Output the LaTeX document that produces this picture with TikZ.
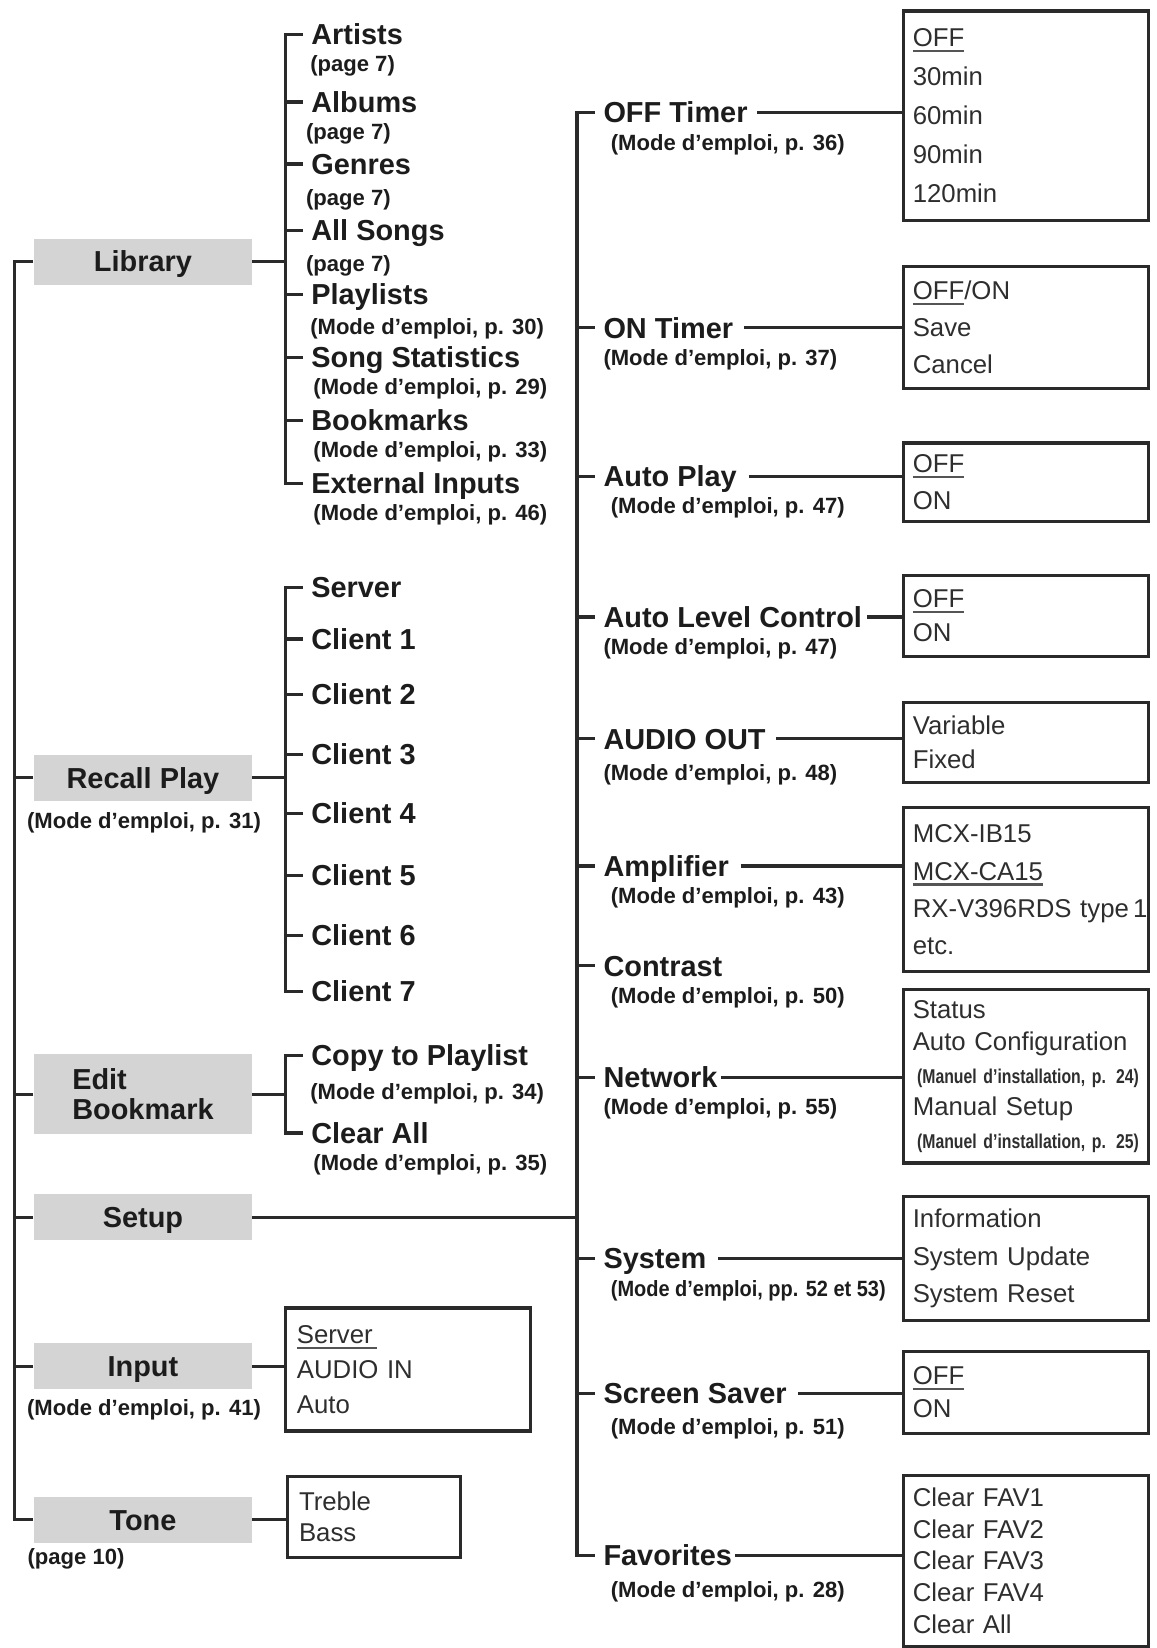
\documentclass[tikz,border=0pt]{standalone}
\usepackage{fontspec}
\setmainfont{Liberation Sans}
\usepackage{graphicx}

\definecolor{linegray}{HTML}{2A2A2A}
\definecolor{boxgray}{HTML}{D4D4D4}
\definecolor{inkblack}{HTML}{1C1C1C}
\definecolor{optgray}{HTML}{2E2E2E}
\definecolor{rulegray}{HTML}{555555}

\newcommand{\titlefont}{\fontsize{27.5}{31}\selectfont\bfseries}
\newcommand{\reffont}{\fontsize{21}{24}\selectfont\bfseries}
\newcommand{\optsize}[1]{\fontsize{24.5}{#1}\selectfont}
\newcommand{\ulopt}[1]{\leavevmode\vtop{\hbox{#1}\kern3pt{\color{rulegray}\hrule height 2pt}}}
\newcommand{\instref}[1]{{\fontsize{19}{20}\selectfont\bfseries\scalebox{0.79}[1]{#1}}}

\begin{document}
\begin{tikzpicture}[x=1pt,y=-1pt,
  conn/.style={draw=linegray, line width=3pt},
  catbox/.style={fill=boxgray, minimum width=208pt, minimum height=44pt, inner sep=0pt, font=\titlefont, text=inkblack},
  onerow/.style={text height=19.5pt, text depth=0pt},
  item/.style={anchor=west, inner sep=0pt, font=\titlefont, text=inkblack, text height=19.5pt, text depth=0pt},
  pageref/.style={anchor=west, inner sep=0pt, font=\reffont, text=inkblack, text height=15pt, text depth=0pt},
  optbox/.style={draw=linegray, line width=3pt, anchor=north west, minimum width=233pt, text width=215pt, inner xsep=9pt, inner ysep=0pt, align=left, font=\optsize{32}, text=optgray}]

\useasboundingbox (0,0) rectangle (1100,1568);

% main menu
\node[catbox, onerow] (library) at (136,249) {Library};
\node[catbox, onerow] (recall) at (136,740) {Recall Play};
\node[pageref, anchor=center] (recall_ref) at (137,781) {(Mode d’emploi, p. 31)};
\node[catbox, minimum height=76pt, align=left, font={\fontsize{27.5}{28}\selectfont\bfseries}] (editbm) at (136,1041) {Edit\\Bookmark};
\node[catbox, onerow] (setup) at (136,1158) {Setup};
\node[catbox, onerow] (input) at (136,1300) {Input};
\node[pageref, anchor=center] (input_ref) at (137,1339) {(Mode d’emploi, p. 41)};
\node[catbox, onerow] (tone) at (136,1446) {Tone};
\node[pageref] (tone_ref) at (26,1481) {(page 10)};

% library
\node[item] (lib_artists) at (296,33) {Artists};
\node[pageref] (lib_artists_ref) at (295,61) {(page 7)};
\node[item] (lib_albums) at (296,97) {Albums};
\node[pageref] (lib_albums_ref) at (291,125) {(page 7)};
\node[item] (lib_genres) at (296,156) {Genres};
\node[pageref] (lib_genres_ref) at (291,188) {(page 7)};
\node[item] (lib_allsongs) at (296,219) {All Songs};
\node[pageref] (lib_allsongs_ref) at (291,251) {(page 7)};
\node[item] (lib_playlists) at (296,280) {Playlists};
\node[pageref] (lib_playlists_ref) at (295,311) {(Mode d’emploi, p. 30)};
\node[item] (lib_songstats) at (296,340) {Song Statistics};
\node[pageref] (lib_songstats_ref) at (298,368) {(Mode d’emploi, p. 29)};
\node[item] (lib_bookmarks) at (296,400) {Bookmarks};
\node[pageref] (lib_bookmarks_ref) at (298,428) {(Mode d’emploi, p. 33)};
\node[item] (lib_extinputs) at (296,460) {External Inputs};
\node[pageref] (lib_extinputs_ref) at (298,488) {(Mode d’emploi, p. 46)};

% recall play
\node[item] (rec_server) at (296,559) {Server};
\node[item] (rec_client1) at (296,608) {Client 1};
\node[item] (rec_client2) at (296,661) {Client 2};
\node[item] (rec_client3) at (296,718) {Client 3};
\node[item] (rec_client4) at (296,774) {Client 4};
\node[item] (rec_client5) at (296,833) {Client 5};
\node[item] (rec_client6) at (296,890) {Client 6};
\node[item] (rec_client7) at (296,943) {Client 7};

% edit bookmark
\node[item] (bm_copy) at (296,1004) {Copy to Playlist};
\node[pageref] (bm_copy_ref) at (295,1039) {(Mode d’emploi, p. 34)};
\node[item] (bm_clear) at (296,1078) {Clear All};
\node[pageref] (bm_clear_ref) at (298,1106) {(Mode d’emploi, p. 35)};

% input and tone
\node[optbox, minimum width=233pt, text width=211pt, inner xsep=11pt, minimum height=117pt, font=\optsize{33}] (b_input) at (270,1243) {\ulopt{Server\,}\\AUDIO IN\\Auto};
\node[optbox, minimum width=165pt, text width=143pt, inner xsep=11pt, minimum height=77pt, font=\optsize{29}] (b_tone) at (272,1403) {Treble\\Bass};

% setup
\node[item] (r_offtimer) at (574,107) {OFF Timer};
\node[pageref] (r_offtimer_ref) at (581,136) {(Mode d’emploi, p. 36)};
\node[item] (r_ontimer) at (574,312) {ON Timer};
\node[pageref] (r_ontimer_ref) at (574,340) {(Mode d’emploi, p. 37)};
\node[item] (r_autoplay) at (574,453) {Auto Play};
\node[pageref] (r_autoplay_ref) at (581,481) {(Mode d’emploi, p. 47)};
\node[item] (r_alc) at (574,587) {Auto Level Control};
\node[pageref] (r_alc_ref) at (574,615) {(Mode d’emploi, p. 47)};
\node[item] (r_audioout) at (574,703) {AUDIO OUT};
\node[pageref] (r_audioout_ref) at (574,735) {(Mode d’emploi, p. 48)};
\node[item] (r_amp) at (574,824) {Amplifier};
\node[pageref] (r_amp_ref) at (581,852) {(Mode d’emploi, p. 43)};
\node[item] (r_contrast) at (574,919) {Contrast};
\node[pageref] (r_contrast_ref) at (581,947) {(Mode d’emploi, p. 50)};
\node[item] (r_network) at (574,1025) {Network};
\node[pageref] (r_network_ref) at (574,1053) {(Mode d’emploi, p. 55)};
\node[item] (r_system) at (574,1197) {System};
\node[pageref] (r_system_ref) at (581,1226) {\scalebox{0.905}[1]{(Mode d’emploi, pp. 52 et 53)}};
\node[item] (r_screensaver) at (574,1326) {Screen Saver};
\node[pageref] (r_screensaver_ref) at (581,1357) {(Mode d’emploi, p. 51)};
\node[item] (r_favorites) at (574,1480) {Favorites};
\node[pageref] (r_favorites_ref) at (581,1512) {(Mode d’emploi, p. 28)};

% setting values
\node[optbox, minimum height=199pt, font=\optsize{37}] (b_offtimer) at (858,9) {\ulopt{OFF}\\30min\\60min\\90min\\120min};
\node[optbox, minimum height=116pt, font=\optsize{35.5}] (b_ontimer) at (858,252) {\ulopt{OFF}/ON\\Save\\Cancel};
\node[optbox, minimum height=75pt, font=\optsize{35}] (b_autoplay) at (858,420) {\ulopt{OFF}\\ON};
\node[optbox, minimum height=77pt] (b_alc) at (858,546) {\ulopt{OFF}\\ON};
\node[optbox, minimum height=76pt] (b_audioout) at (858,667) {Variable\\Fixed};
\node[optbox, minimum height=156pt, font=\optsize{35.3}] (b_amp) at (858,767) {MCX-IB15\\\ulopt{MCX-CA15}\\\mbox{RX-V396RDS type\,1}\\etc.};
\node[optbox, minimum height=165pt, font=\optsize{31}] (b_network) at (858,940) {Status\\Auto Configuration\\\,\instref{(Manuel d’installation, p. 24)}\\Manual Setup\\\,\instref{(Manuel d’installation, p. 25)}};
\node[optbox, minimum height=118pt, font=\optsize{35.5}] (b_system) at (858,1137) {Information\\System Update\\System Reset};
\node[optbox, minimum height=78pt] (b_screensaver) at (858,1284) {\ulopt{OFF}\\ON};
\node[optbox, minimum height=163pt, font=\optsize{30}] (b_favorites) at (858,1402) {Clear FAV1\\Clear FAV2\\Clear FAV3\\Clear FAV4\\Clear All};

% trunks
\coordinate (ltrunk) at (14,0);
\coordinate (libtrunk) at (272,0);
\coordinate (rtrunk) at (549,0);

\draw[conn] (library.west) -- (library.west -| ltrunk) -- (tone.west -| ltrunk) -- (tone.west);
\foreach \n in {recall,editbm,setup,input}
  \draw[conn] (\n.west) -- (\n.west -| ltrunk);

\draw[conn] (library.east) -- (library.east -| libtrunk);
\draw[conn] ([xshift=-8pt]lib_artists.west) -- (lib_artists.west -| libtrunk) -- (lib_extinputs.west -| libtrunk) -- ([xshift=-8pt]lib_extinputs.west);
\foreach \n in {lib_albums,lib_genres,lib_allsongs,lib_playlists,lib_songstats,lib_bookmarks}
  \draw[conn] ([xshift=-8pt]\n.west) -- (\n.west -| libtrunk);

\draw[conn] (recall.east) -- (recall.east -| libtrunk);
\draw[conn] ([xshift=-8pt]rec_server.west) -- (rec_server.west -| libtrunk) -- (rec_client7.west -| libtrunk) -- ([xshift=-8pt]rec_client7.west);
\foreach \n in {rec_client1,rec_client2,rec_client3,rec_client4,rec_client5,rec_client6}
  \draw[conn] ([xshift=-8pt]\n.west) -- (\n.west -| libtrunk);

\draw[conn] (editbm.east) -- (editbm.east -| libtrunk);
\draw[conn] ([xshift=-8pt]bm_copy.west) -- (bm_copy.west -| libtrunk) -- (bm_clear.west -| libtrunk) -- ([xshift=-8pt]bm_clear.west);

\draw[conn] (input.east) -- (input.east -| b_input.west);
\draw[conn] (tone.east) -- (tone.east -| b_tone.west);

\draw[conn] (setup.east) -- (setup.east -| rtrunk);
\draw[conn] ([xshift=-8pt]r_offtimer.west) -- (r_offtimer.west -| rtrunk) -- (r_favorites.west -| rtrunk) -- ([xshift=-8pt]r_favorites.west);
\foreach \n in {r_ontimer,r_autoplay,r_alc,r_audioout,r_amp,r_contrast,r_network,r_system,r_screensaver}
  \draw[conn] ([xshift=-8pt]\n.west) -- (\n.west -| rtrunk);

% to the values
\draw[conn] ([xshift=9pt]r_offtimer.east) -- (r_offtimer.east -| b_offtimer.west);
\draw[conn] ([xshift=10pt]r_ontimer.east) -- (r_ontimer.east -| b_ontimer.west);
\draw[conn] ([xshift=11pt]r_autoplay.east) -- (r_autoplay.east -| b_autoplay.west);
\draw[conn] ([xshift=5pt]r_alc.east) -- (r_alc.east -| b_alc.west);
\draw[conn] ([xshift=10pt]r_audioout.east) -- (r_audioout.east -| b_audioout.west);
\draw[conn] ([xshift=11pt]r_amp.east) -- (r_amp.east -| b_amp.west);
\draw[conn] ([xshift=3pt]r_network.east) -- (r_network.east -| b_network.west);
\draw[conn] ([xshift=11pt]r_system.east) -- (r_system.east -| b_system.west);
\draw[conn] ([xshift=11pt]r_screensaver.east) -- (r_screensaver.east -| b_screensaver.west);
\draw[conn] ([xshift=3pt]r_favorites.east) -- (r_favorites.east -| b_favorites.west);

\end{tikzpicture}
\end{document}
